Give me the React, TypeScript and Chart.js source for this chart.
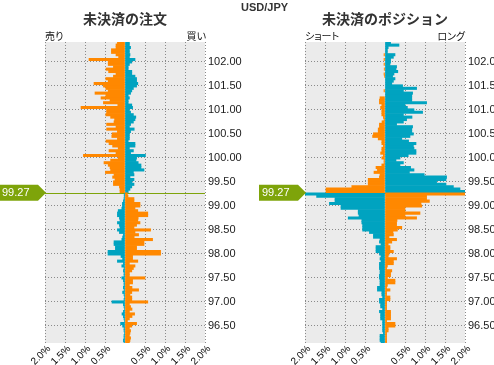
import React, { useEffect, useRef } from 'react';
import { Chart, registerables } from 'chart.js';

Chart.register(...registerables);

// ---------- data ----------
const pairName = 'USD/JPY';
const currentPrice = 99.27;
const bucketSize = 0.05;
const priceMin = 96.14;
const priceMax = 102.41;
const priceTickStep = 0.5;
const pctMin = -2;
const pctMax = 2;
const pctTickStep = 0.5;

const ordersTitle = '未決済の注文';
const ordersLeftLabel = '売り';
const ordersRightLabel = '買い';
const positionsTitle = '未決済のポジション';
const positionsLeftLabel = 'ショート';
const positionsRightLabel = 'ロング';

// % per 0.05 price bucket, listed outward from the current price (index 0 = nearest bucket)
const ordersOrangeAbove = [
  0.125, 0.125, 0.14, 0.29, 0.29, 0.25, 0.31, 0.275, 0.49, 0.36,
  0.375, 0.42, 0.525, 0.36, 0.17, 1.04, 0.225, 0.4, 0.17, 0.31,
  0.4, 0.475, 0.19, 0.33, 0.32, 0.19, 0.46, 0.225, 0.46, 0.275,
  0.26, 0.36, 0.48, 0.46, 0.46, 1.1, 0.18, 0.54, 0.375, 0.6,
  0.48, 0.75, 0.42, 0.48, 0.54, 0.775, 0.42, 0.48, 0.29, 0.225,
  0.41, 0.475, 0.29, 0.42, 0.42, 0.9, 0.16, 0.225, 0.34, 0.34,
  0.225, 0.225, 0.19, 0.19,
];
const ordersTealAbove = [
  0.08, 0.125, 0.17, 0.225, 0.175, 0.225, 0.125, 0.225, 0.21, 0.475,
  0.4, 0.4, 0.33, 0.275, 0.29, 0.51, 0.14, 0.21, 0.11, 0.25,
  0.25, 0.08, 0.11, 0.11, 0.11, 0.14, 0.23, 0.11, 0.14, 0.21,
  0.25, 0.27, 0.21, 0.14, 0.11, 0.19, 0.17, 0.08, 0.08, 0.11,
  0.08, 0.14, 0.17, 0.21, 0.29, 0.32, 0.29, 0.29, 0.25, 0.17,
  0.17, 0.08, 0.08, 0.11, 0.17, 0.25, 0.11, 0.125, 0.11, 0.11,
  0.14, 0.11, 0.11, 0.09,
];
const ordersOrangeBelow = [
  0.06, 0.075, 0.225, 0.225, 0.375, 0.375, 0.25, 0.32, 0.57, 0.57,
  0.33, 0.32, 0.375, 0.29, 0.225, 0.64, 0.25, 0.34, 0.23, 0.69,
  0.475, 0.475, 0.29, 0.29, 0.89, 0.89, 0.19, 0.19, 0.32, 0.11,
  0.25, 0.21, 0.17, 0.11, 0.11, 0.5, 0.19, 0.19, 0.11, 0.175,
  0.34, 0.17, 0.125, 0.17, 0.17, 0.57, 0.11, 0.14, 0.175, 0.11,
  0.24, 0.175, 0.11, 0.06, 0.29, 0.17, 0.11, 0.14, 0.125, 0.11,
  0.14, 0.125, 0.11,
];
const ordersTealBelow = [
  0.02, 0.02, 0.025, 0.04, 0.065, 0.065, 0.08, 0.17, 0.19, 0.19,
  0.14, 0.125, 0.19, 0.14, 0.125, 0.19, 0.14, 0.04, 0.06, 0.08,
  0.275, 0.275, 0.24, 0.24, 0.425, 0.425, 0.1, 0.06, 0.19, 0.04,
  0.08, 0.025, 0.04, 0.025, 0.025, 0.08, 0.04, 0.025, 0.025, 0.04,
  0.025, 0.06, 0.025, 0.01, 0.025, 0.325, 0.04, 0.025, 0.01, 0.04,
  0.075, 0.04, 0.025, 0.01, 0.11, 0.06, 0.025, 0.025, 0.01, 0.025,
  0.025, 0.04, 0.025,
];

const positionsOrangeAbove = [
  1.475, 1.475, 0.83, 0.42, 0.42, 0.42, 0.14, 0.125, 0.275, 0.19,
  0.225, 0.08, 0.025, 0.025, 0.08, 0.04, 0.11, 0.08, 0.08, 0.04,
  0.08, 0.08, 0.17, 0.31, 0.29, 0.17, 0.17, 0.14, 0.14, 0.075,
  0.025, 0.04, 0.08, 0.08, 0.08, 0.11, 0.08, 0.14, 0.14, 0.125,
  0, 0, 0.025, 0, 0, 0, 0, 0, 0.01, 0.025,
  0, 0.02, 0, 0.025, 0, 0.025, 0, 0.025, 0, 0,
  0, 0, 0, 0,
];
const positionsTealAbove = [
  2.3, 1.875, 1.71, 1.525, 1.29, 1.525, 1.54, 0.98, 0.61, 0.725,
  0.64, 0.375, 0.46, 0.275, 0.375, 0.58, 0.775, 0.775, 0.725, 0.71,
  0.775, 0.59, 0.42, 0.625, 0.71, 0.67, 0.67, 0.69, 0.29, 0.46,
  0.54, 0.675, 0.46, 0.94, 0.725, 0.56, 0.5, 1.04, 0.67, 0.67,
  0.67, 0.69, 0.46, 0.79, 0.44, 0.17, 0.21, 0.25, 0.19, 0.225,
  0.32, 0.275, 0.29, 0.125, 0.14, 0.14, 0.21, 0.25, 0.06, 0.06,
  0.08, 0.35, 0.14, 0.04,
];
const positionsOrangeBelow = [
  2.1, 1.04, 1.04, 1.11, 0.9, 0.92, 0.5, 0.5, 0.875, 0.5,
  0.79, 0.3, 0.29, 0.29, 0.42, 0.31, 0.2, 0.21, 0.1, 0.29,
  0.17, 0.08, 0.125, 0.125, 0.21, 0.1, 0.08, 0.29, 0.21, 0.21,
  0.06, 0.04, 0.17, 0.14, 0.14, 0.06, 0.25, 0.25, 0.06, 0.04,
  0.125, 0.04, 0.04, 0.125, 0.125, 0.04, 0.04, 0.04, 0.04, 0.14,
  0.14, 0.14, 0.14, 0.04, 0.25, 0.25, 0.08, 0.08, 0.04, 0.04,
  0.04, 0.04, 0.04,
];
const positionsTealBelow = [
  2.2, 1.71, 1.25, 1.25, 1.39, 1.1, 1.1, 0.67, 0.67, 0.65,
  0.92, 0.58, 0.58, 0.56, 0.56, 0.56, 0.39, 0.29, 0.29, 0.125,
  0.14, 0.1, 0.225, 0.225, 0.225, 0.14, 0.1, 0.125, 0.1, 0.14,
  0.14, 0.14, 0.125, 0.125, 0.14, 0.14, 0.125, 0.125, 0.125, 0.19,
  0.19, 0.08, 0.08, 0.06, 0.14, 0.14, 0.11, 0.11, 0.06, 0.14,
  0.11, 0.11, 0.11, 0.06, 0.06, 0.06, 0.06, 0.06, 0.04, 0.125,
  0.125, 0.125, 0.1,
];

// ---------- styles ----------
const ORANGE = '#ff8800';
const TEAL = '#00a3c0';
const GREEN = '#7ea40a';
const PLOT_BG = '#ebebeb';
const GRID = '#8a8a8a';
const SANS = '"Liberation Sans", Arial, sans-serif';
const CJK = '"Noto Sans CJK JP", "Noto Sans", sans-serif';

Chart.defaults.font.family = SANS;

type Pt = { x: number; y: number };

function buildSide(above: number[], below: number[], aboveSign: number): Pt[] {
  const pts: Pt[] = [];
  above.forEach((v, k) => {
    if (v !== 0) pts.push({ x: aboveSign * v, y: currentPrice + (k + 0.5) * bucketSize });
  });
  below.forEach((v, k) => {
    if (v !== 0) pts.push({ x: -aboveSign * v, y: currentPrice - (k + 0.5) * bucketSize });
  });
  return pts;
}

const panelBackground = {
  id: 'panelBackground',
  beforeDraw(chart: any) {
    const { ctx, chartArea: a } = chart;
    ctx.save();
    ctx.fillStyle = PLOT_BG;
    ctx.fillRect(a.left, a.top, a.right - a.left, a.bottom - a.top);
    ctx.restore();
  },
};

const priceLine = {
  id: 'priceLine',
  beforeDatasetsDraw(chart: any) {
    const { ctx, chartArea: a } = chart;
    const y = Math.round(chart.scales.y.getPixelForValue(currentPrice)) + 0.5;
    ctx.save();
    ctx.strokeStyle = GREEN;
    ctx.lineWidth = 1;
    ctx.beginPath();
    ctx.moveTo(a.left, y);
    ctx.lineTo(a.right, y);
    ctx.stroke();
    ctx.restore();
  },
  afterDraw(chart: any) {
    const { ctx, chartArea: a } = chart;
    const y = chart.scales.y.getPixelForValue(currentPrice);
    const tip = a.left + 1;
    const boxRight = tip - 8;
    const boxLeft = tip - 47;
    const h = 8;
    ctx.save();
    ctx.fillStyle = GREEN;
    ctx.beginPath();
    ctx.moveTo(boxLeft, y - h);
    ctx.lineTo(boxRight, y - h);
    ctx.lineTo(tip, y);
    ctx.lineTo(boxRight, y + h);
    ctx.lineTo(boxLeft, y + h);
    ctx.closePath();
    ctx.fill();
    ctx.fillStyle = '#ffffff';
    ctx.font = '11px ' + SANS;
    ctx.textBaseline = 'middle';
    ctx.textAlign = 'left';
    ctx.fillText(currentPrice.toFixed(2), boxLeft + 3, y + 0.5);
    ctx.restore();
  },
};

type PanelProps = {
  left: number;
  width: number;
  plotLeft: number;
  plotRight: number;
  orangeAbove: number[];
  tealAbove: number[];
  orangeBelow: number[];
  tealBelow: number[];
};

function Panel(props: PanelProps) {
  const ref = useRef<HTMLCanvasElement>(null);
  useEffect(() => {
    const canvas = ref.current;
    if (!canvas) return;
    const { width, plotLeft, plotRight } = props;
    const orange = buildSide(props.orangeAbove, props.orangeBelow, -1);
    const teal = buildSide(props.tealAbove, props.tealBelow, 1);
    const chart = new Chart(canvas, {
      type: 'bar',
      data: {
        datasets: [
          { data: orange as any, backgroundColor: ORANGE, grouped: false, barPercentage: 1, categoryPercentage: 1, borderWidth: 0 },
          { data: teal as any, backgroundColor: TEAL, grouped: false, barPercentage: 1, categoryPercentage: 1, borderWidth: 0 },
        ],
      },
      options: {
        indexAxis: 'y',
        responsive: false,
        maintainAspectRatio: false,
        animation: false,
        events: [],
        layout: { padding: { left: plotLeft, top: 42, right: 0, bottom: 0 } },
        plugins: { legend: { display: false }, tooltip: { enabled: false }, title: { display: false } },
        scales: {
          x: {
            type: 'linear',
            min: pctMin,
            max: pctMax,
            afterFit: (s: any) => { s.height = 22; },
            ticks: {
              stepSize: pctTickStep,
              maxTicksLimit: 20,
              autoSkip: false,
              minRotation: 45,
              maxRotation: 45,
              padding: 0,
              labelOffset: 4,
              color: '#000',
              font: { size: 10, family: SANS },
              callback: (v: any) => (Number(v) === 0 ? '' : Math.abs(Number(v)).toFixed(1) + '%'),
            },
            grid: {
              drawTicks: false,
              color: (c: any) => (c.tick && c.tick.value === 0 ? 'rgba(0,0,0,0)' : GRID),
            },
            border: { display: false, dash: [1, 2] },
          },
          y: {
            type: 'linear',
            position: 'right',
            min: priceMin,
            max: priceMax,
            offset: false,
            afterFit: (s: any) => { s.width = width - plotRight; },
            ticks: {
              stepSize: priceTickStep,
              maxTicksLimit: 20,
              includeBounds: false,
              autoSkip: false,
              padding: 3,
              color: '#1a1a1a',
              font: { size: 11, family: SANS },
              callback: (v: any) => Number(v).toFixed(2),
            },
            grid: { drawTicks: false, color: GRID, offset: false },
            border: { display: false, dash: [1, 2] },
          },
        },
      } as any,
      plugins: [panelBackground, priceLine],
    });
    return () => chart.destroy();
  }, []);
  return (
    <canvas
      ref={ref}
      width={props.width}
      height={365}
      style={{ position: 'absolute', left: props.left, top: 0, width: props.width, height: 365, display: 'block' }}
    />
  );
}

const titleStyle: React.CSSProperties = {
  position: 'absolute',
  top: 10,
  font: 'bold 14px ' + CJK,
  lineHeight: '16px',
  color: '#333',
  textAlign: 'center',
  whiteSpace: 'nowrap',
};

const sideStyle: React.CSSProperties = {
  position: 'absolute',
  top: 30,
  font: '10px ' + CJK,
  lineHeight: '12px',
  color: '#111',
  whiteSpace: 'nowrap',
  fontFeatureSettings: '"palt" 1',
};

export default function App() {
  return (
    <div style={{ position: 'fixed', left: 0, top: 0, width: 494, height: 365, background: '#fff', overflow: 'hidden' }}>
      <Panel left={0} width={250} plotLeft={45} plotRight={205}
        orangeAbove={ordersOrangeAbove} tealAbove={ordersTealAbove}
        orangeBelow={ordersOrangeBelow} tealBelow={ordersTealBelow} />
      <Panel left={250} width={244} plotLeft={55} plotRight={215}
        orangeAbove={positionsOrangeAbove} tealAbove={positionsTealAbove}
        orangeBelow={positionsOrangeBelow} tealBelow={positionsTealBelow} />
      <div style={{ position: 'absolute', left: 241, top: 1, font: 'bold 11px ' + SANS, lineHeight: '12px', color: '#333', whiteSpace: 'nowrap' }}>{pairName}</div>
      <div style={{ ...titleStyle, left: 45, width: 160 }}>{ordersTitle}</div>
      <div style={{ ...titleStyle, left: 305, width: 160 }}>{positionsTitle}</div>
      <div style={{ ...sideStyle, left: 45 }}>{ordersLeftLabel}</div>
      <div style={{ ...sideStyle, left: 145, width: 61, textAlign: 'right' }}>{ordersRightLabel}</div>
      <div style={{ ...sideStyle, left: 305 }}>{positionsLeftLabel}</div>
      <div style={{ ...sideStyle, left: 405, width: 60, textAlign: 'right' }}>{positionsRightLabel}</div>
    </div>
  );
}
